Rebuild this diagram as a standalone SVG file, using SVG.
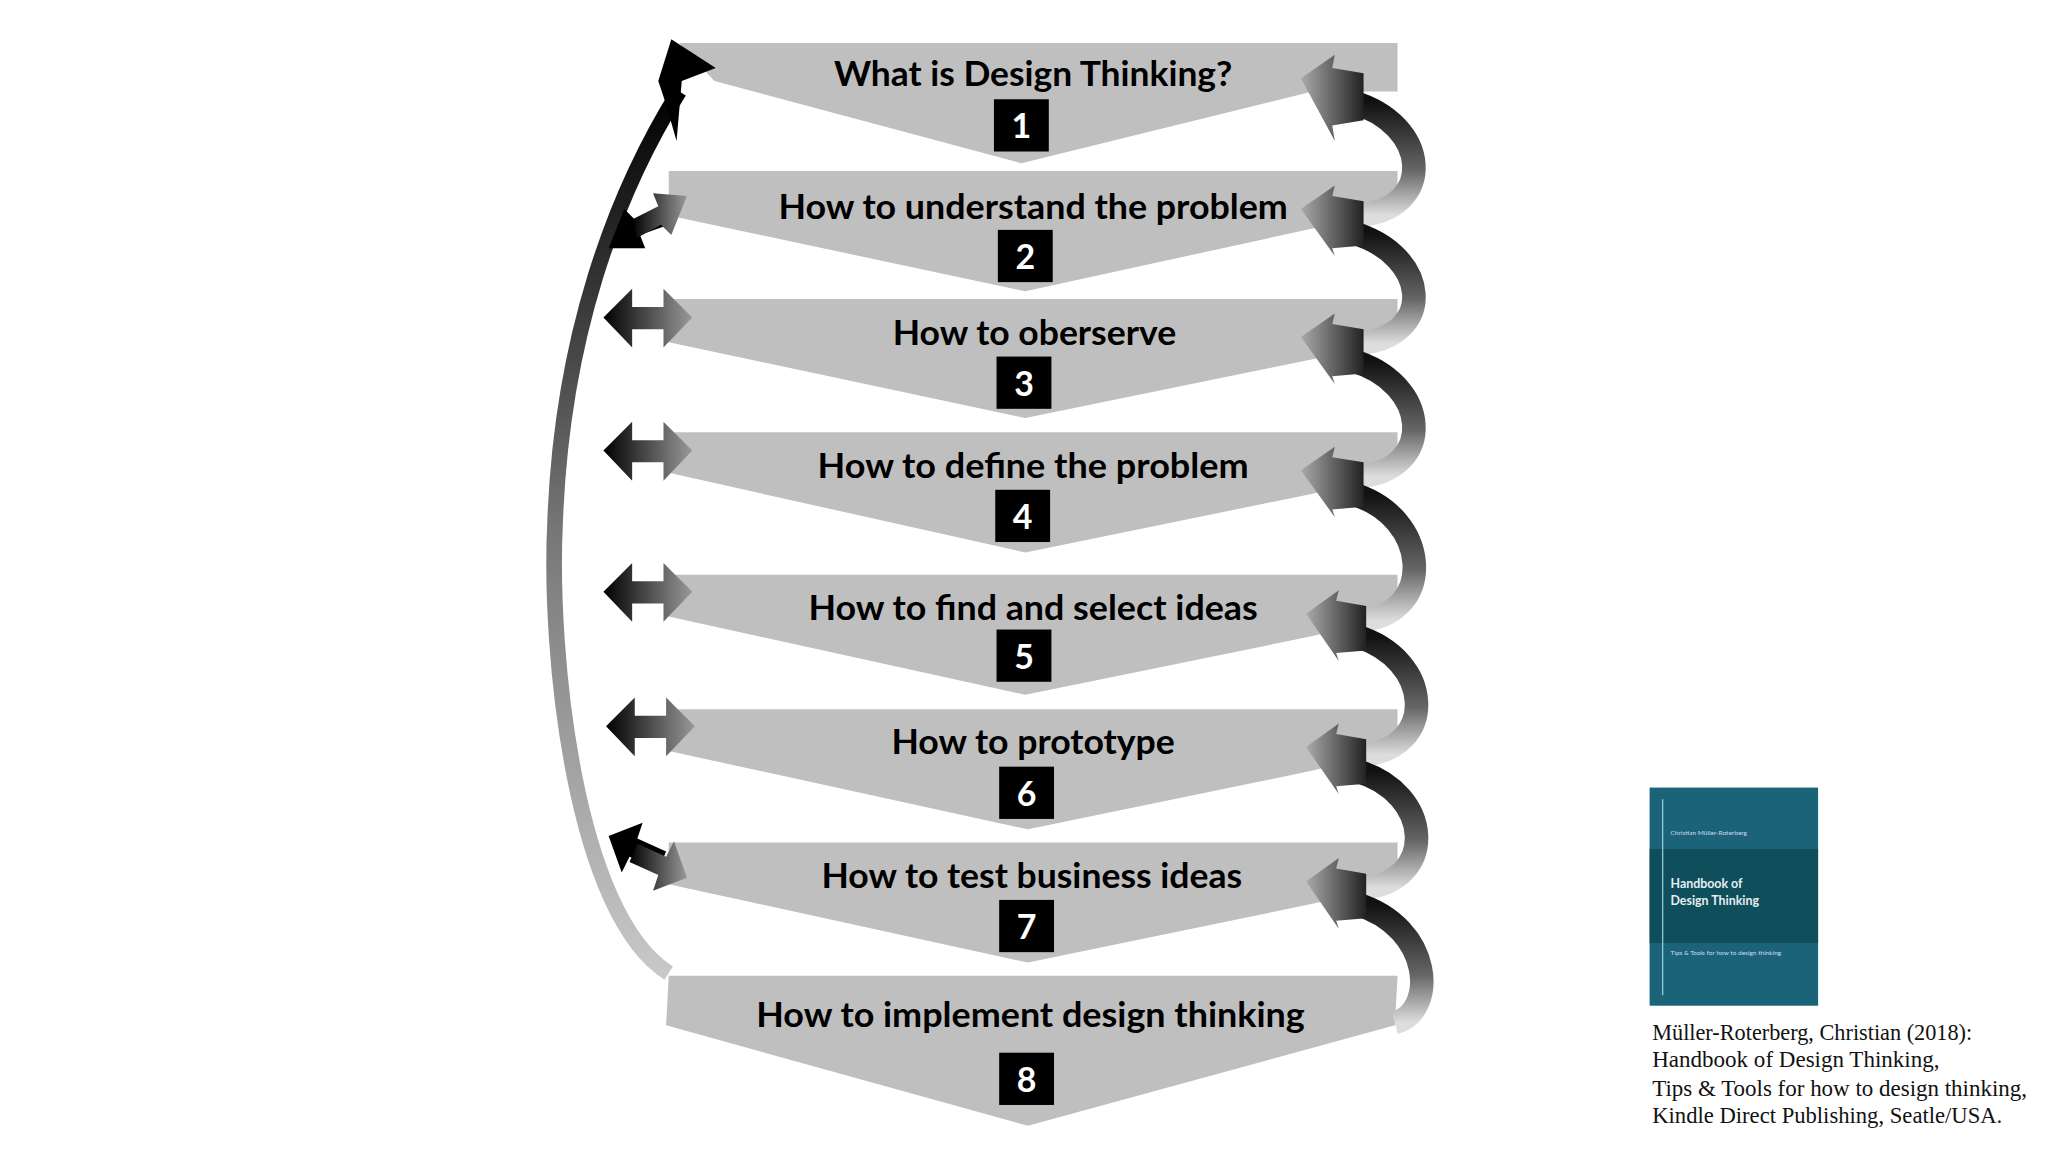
<svg xmlns="http://www.w3.org/2000/svg" width="2048" height="1152" viewBox="0 0 2048 1152">
<defs>
<style>
.band{fill:#bfbfbf}
.t{font-family:Lato,"Open Sans",sans-serif;font-weight:bold;font-size:27px;fill:#000;text-anchor:middle}
.n{font-family:Lato,"Open Sans",sans-serif;font-weight:bold;font-size:26px;fill:#fff;text-anchor:middle}
.c{font-family:"Liberation Serif",serif;font-size:18px;fill:#111}
</style>
<linearGradient id="rg" x1="0" y1="0" x2="0" y2="1">
<stop offset="0" stop-color="#111"/><stop offset="0.6" stop-color="#666"/><stop offset="1" stop-color="#ddd"/>
</linearGradient>
<linearGradient id="hg" x1="0" y1="0" x2="1" y2="0">
<stop offset="0" stop-color="#aaa"/><stop offset="1" stop-color="#222"/>
</linearGradient>
<linearGradient id="lg" x1="0" y1="0" x2="1" y2="0">
<stop offset="0" stop-color="#000"/><stop offset="1" stop-color="#999"/>
</linearGradient>
<linearGradient id="bg" x1="0" y1="1" x2="0" y2="0">
<stop offset="0" stop-color="#c8c8c8"/><stop offset="0.5" stop-color="#777"/><stop offset="1" stop-color="#000"/>
</linearGradient>
</defs>
<g transform="scale(1.3061)">
<g id="n1"><polygon class="band" points="520,33 1070,33 1070,70 1005,70 782,125 547,62"/><rect x="761" y="76" width="42" height="40"/><text class="t" x="791" y="66" textLength="305" lengthAdjust="spacingAndGlyphs">What is Design Thinking?</text><text class="n" x="782" y="106">1</text></g>
<g id="n2"><polygon class="band" points="512,131 1070,131 1070,165 1005,175 785,223 512,165"/><rect x="764" y="176" width="42" height="40"/><text class="t" x="791" y="168" textLength="390" lengthAdjust="spacingAndGlyphs">How to understand the problem</text><text class="n" x="785" y="206">2</text></g>
<g id="n3"><polygon class="band" points="512,229 1070,229 1070,262 1005,275 785,320 512,262"/><rect x="763" y="273" width="42" height="40"/><text class="t" x="792" y="264" textLength="217" lengthAdjust="spacingAndGlyphs">How to oberserve</text><text class="n" x="784" y="303">3</text></g>
<g id="n4"><polygon class="band" points="512,331 1070,331 1070,362 1005,378 785,423 512,362"/><rect x="762" y="375" width="42" height="40"/><text class="t" x="791" y="366" textLength="330" lengthAdjust="spacingAndGlyphs">How to define the problem</text><text class="n" x="783" y="405">4</text></g>
<g id="n5"><polygon class="band" points="512,440 1070,440 1070,472 1005,487 785,532 512,472"/><rect x="763" y="482" width="42" height="40"/><text class="t" x="791" y="475" textLength="344" lengthAdjust="spacingAndGlyphs">How to find and select ideas</text><text class="n" x="784" y="512">5</text></g>
<g id="n6"><polygon class="band" points="512,543 1070,543 1070,575 1005,590 787,635 512,575"/><rect x="765" y="587" width="42" height="40"/><text class="t" x="791" y="577" textLength="217" lengthAdjust="spacingAndGlyphs">How to prototype</text><text class="n" x="786" y="617">6</text></g>
<g id="n7"><polygon class="band" points="512,645 1070,645 1070,677 1005,692 787,737 512,677"/><rect x="765" y="689" width="42" height="40"/><text class="t" x="790" y="680" textLength="322" lengthAdjust="spacingAndGlyphs">How to test business ideas</text><text class="n" x="786" y="719">7</text></g>
<g id="n8"><polygon class="band" points="512,747 1070,747 1068,785 787,862 510,785"/><rect x="765" y="806" width="42" height="40"/><text class="t" x="789" y="786" textLength="420" lengthAdjust="spacingAndGlyphs">How to implement design thinking</text><text class="n" x="786" y="836">8</text></g>
<g id="connectors">
<path d="M512,745 C440,700 420,500 425,400 C430,260 470,150 520,70" fill="none" stroke="url(#bg)" stroke-width="12"/>
<polygon points="514,30 548,52 522,62 518,108 510,80 504,62" fill="#000"/>
<g id="right-arcs" fill="none" stroke="url(#rg)" stroke-width="18">
<path d="M1035,78 C1095,95 1100,160 1040,165"/>
<path d="M1035,178 C1095,195 1100,258 1040,263"/>
<path d="M1035,276 C1095,293 1100,360 1040,365"/>
<path d="M1035,378 C1095,395 1100,470 1042,475"/>
<path d="M1038,487 C1098,505 1100,573 1044,578"/>
<path d="M1038,590 C1098,607 1100,675 1044,680"/>
<path d="M1038,692 C1098,710 1100,775 1068,783"/>
</g>
<g fill="url(#hg)">
<polygon points="996,60 1022,42 1020,52 1044,56 1044,92 1020,96 1022,108"/>
<polygon points="996,160 1022,142 1020,150 1044,154 1044,188 1020,190 1022,196"/>
<polygon points="996,258 1022,240 1020,248 1044,252 1044,286 1020,288 1022,294"/>
<polygon points="996,360 1022,342 1020,350 1044,354 1044,388 1020,390 1022,396"/>
<polygon points="1000,470 1025,452 1023,460 1046,464 1046,498 1023,500 1025,506"/>
<polygon points="1000,572 1025,554 1023,562 1046,566 1046,600 1023,602 1025,608"/>
<polygon points="1000,675 1025,657 1023,665 1046,669 1046,703 1023,705 1025,711"/>
</g>
<g id="left-arrows">
<polygon points="466,190 478,160 486,168 508,158 512,172 490,180 494,190" fill="#000"/>
<polygon points="526,150 514,180 506,172 488,182 484,168 504,158 500,148" fill="url(#lg)"/>
<polygon points="462,243 484,221 484,235 508,235 508,221 530,243 508,266 508,252 484,252 484,266" fill="url(#lg)"/>
<polygon points="462,345 484,323 484,337 508,337 508,323 530,345 508,368 508,354 484,354 484,368" fill="url(#lg)"/>
<polygon points="462,453 484,431 484,445 508,445 508,431 530,453 508,476 508,462 484,462 484,476" fill="url(#lg)"/>
<polygon points="464,556 486,534 486,548 510,548 510,534 532,556 510,579 510,565 486,565 486,579" fill="url(#lg)"/>
<polygon points="466,640 492,630 488,642 510,652 504,666 482,656 476,668" fill="#000"/>
<polygon points="526,672 500,682 504,670 482,660 488,646 510,656 516,644" fill="url(#lg)"/>
</g>
</g>
<g id="book">
<rect x="1263" y="603" width="129" height="167" fill="#1b6378"/>
<rect x="1263" y="650" width="129" height="72" fill="#0f4f5c"/>
<line x1="1273" y1="612" x2="1273" y2="762" stroke="#8fc8d8" stroke-width="1"/>
<text x="1279" y="639" font-family="Lato,sans-serif" font-size="5" fill="#cde">Christian Müller-Roterberg</text>
<text x="1279" y="680" font-family="Lato,sans-serif" font-size="9.5" font-weight="bold" fill="#e6eef0">Handbook of</text>
<text x="1279" y="693" font-family="Lato,sans-serif" font-size="9.5" font-weight="bold" fill="#e6eef0">Design Thinking</text>
<text x="1279" y="731" font-family="Lato,sans-serif" font-size="5" fill="#cde">Tips &amp; Tools for how to design thinking</text>
</g>
<g id="citation">
<text class="c" x="1265" y="796" textLength="245" lengthAdjust="spacingAndGlyphs">Müller-Roterberg, Christian (2018):</text>
<text class="c" x="1265" y="817" textLength="220" lengthAdjust="spacingAndGlyphs">Handbook of Design Thinking,</text>
<text class="c" x="1265" y="839" textLength="287" lengthAdjust="spacingAndGlyphs">Tips &amp; Tools for how to design thinking,</text>
<text class="c" x="1265" y="860" textLength="268" lengthAdjust="spacingAndGlyphs">Kindle Direct Publishing, Seatle/USA.</text>
</g>
</g>
</svg>
